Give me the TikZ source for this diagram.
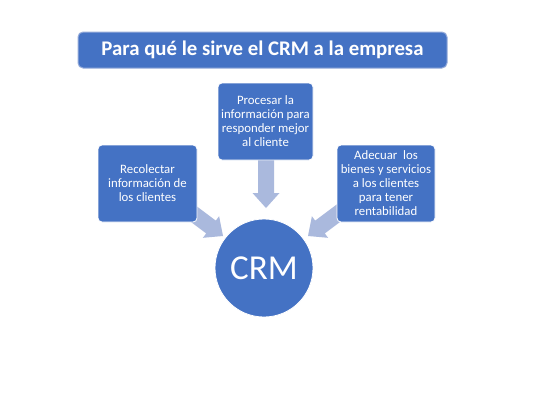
\documentclass[tikz,border=0pt]{standalone}
\usepackage{fontspec}
\setmainfont{Carlito}
\usetikzlibrary{calc}
\definecolor{accblue}{RGB}{68,114,196}
\definecolor{arrfill}{RGB}{170,185,221}
\definecolor{titleedge}{RGB}{150,172,218}
\tikzset{
  box/.style={fill=accblue, draw=white, line width=0.8pt, rounded corners=4pt,
    text=white, align=center, font=\fontsize{12.8}{14}\selectfont, inner sep=0pt},
  titlebox/.style={fill=accblue, draw=titleedge, line width=1pt, rounded corners=5pt,
    text=white, font=\fontsize{20.8}{22}\selectfont\bfseries, inner sep=0pt,
    minimum width=369pt, minimum height=36pt},
  crmcircle/.style={circle, fill=accblue, draw=white, line width=0.8pt, text=white,
    minimum size=98pt, inner sep=0pt, font=\fontsize{35}{36}\selectfont},
  arrowfill/.style={fill=arrfill}
}
\newcommand\blockarrow[2]{%
  \coordinate (hb) at ($(#2)!15pt!(#1)$);
  \fill[arrowfill] ($(#1)!8pt!90:(#2)$) -- ($(hb)!8pt!90:(#2)$) -- ($(hb)!13.5pt!90:(#2)$)
    -- (#2) -- ($(hb)!13.5pt!-90:(#2)$) -- ($(hb)!8pt!-90:(#2)$) -- ($(#1)!8pt!-90:(#2)$) -- cycle;}
\begin{document}
\begin{tikzpicture}[x=1pt,y=-1pt]
\useasboundingbox (0,0) rectangle (533,400);
\fill[white] (0,0) rectangle (533,400);
% arrow coordinates
\coordinate (ms) at (266,156);
\coordinate (mt) at (266,208);
\coordinate (ls) at (187,209);
\coordinate (lt) at (223,236);
\coordinate (rs) at (344,209);
\coordinate (rt) at (308,236);
\blockarrow{ms}{mt}
\blockarrow{ls}{lt}
\blockarrow{rs}{rt}
% title
\node[titlebox] (title) at (262.5,50) {Para qué le sirve el CRM a la empresa};
% boxes
\node[box, minimum width=99pt, minimum height=77pt] (left) at (147.5,183.5)
  {Recolectar\\información de\\los clientes};
\node[box, minimum width=95pt, minimum height=77pt] (mid) at (265.5,121.5)
  {Procesar la\\información para\\responder mejor\\al cliente};
\node[box, minimum width=98pt, minimum height=77pt] (right) at (386,183.5)
  {Adecuar~~los\\bienes y servicios\\a los clientes\\para tener\\rentabilidad};
% circle
\node[crmcircle] (crm) at (264,268) {CRM};
\end{tikzpicture}
\end{document}
